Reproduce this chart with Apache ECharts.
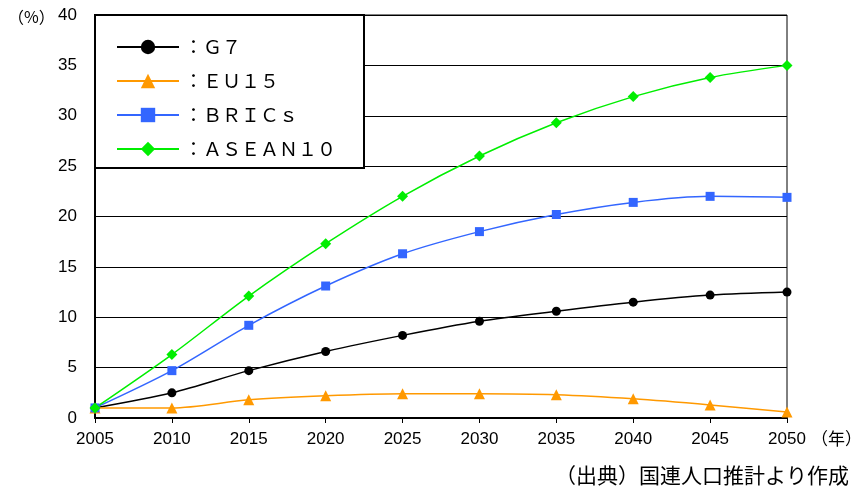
<!DOCTYPE html>
<html>
<head>
<meta charset="utf-8">
<script src="https://cdn.jsdelivr.net/npm/echarts@6/dist/echarts.min.js"></script>
<style>
  html, body { margin: 0; padding: 0; background: #fff; }
  #chart { width: 854px; height: 488px; }
</style>
</head>
<body>
<div id="chart"></div>
<script>
// Projected share (%) by region group, 2005–2050
var years = ['2005', '2010', '2015', '2020', '2025', '2030', '2035', '2040', '2045', '2050'];
var g7     = [1.0, 2.5, 4.7, 6.6, 8.2, 9.6, 10.6, 11.5, 12.2, 12.5];
var eu15   = [1.0, 1.0, 1.8, 2.2, 2.4, 2.4, 2.3, 1.9, 1.3, 0.6];
var brics  = [1.0, 4.7, 9.2, 13.1, 16.3, 18.5, 20.2, 21.4, 22.0, 21.9];
var asean  = [1.0, 6.3, 12.1, 17.3, 22.0, 26.0, 29.3, 31.9, 33.8, 35.0];
var seriesNames = ['G7', 'EU15', 'BRICs', 'ASEAN10'];
var legendLabels = ['：Ｇ７', '：ＥＵ１５', '：ＢＲＩＣｓ', '：ＡＳＥＡＮ１０'];
var yTicks = { min: 0, max: 40, interval: 5 };

var latin = 'Arial, "Liberation Sans", sans-serif';
var cjk = '"Noto Sans CJK JP", sans-serif';

function makeSeries(name, data, color, symbol, size) {
  return {
    name: name,
    type: 'line',
    data: data,
    smooth: 0.3,
    symbol: symbol,
    symbolSize: size,
    showAllSymbol: true,
    lineStyle: { color: color, width: 1.5 },
    itemStyle: { color: color },
    z: 3
  };
}

var chart = echarts.init(document.getElementById('chart'), null, { renderer: 'canvas' });
chart.setOption({
  animation: false,
  backgroundColor: '#fff',
  grid: {
    left: 95, top: 15, right: 67, bottom: 70,
    show: true, borderColor: '#000', borderWidth: 1
  },
  xAxis: {
    type: 'category',
    data: years,
    boundaryGap: false,
    axisLine: { lineStyle: { color: '#000', width: 2 } },
    axisTick: { show: true, length: 5, lineStyle: { color: '#000' } },
    axisLabel: { color: '#000', fontFamily: latin, fontSize: 17, margin: 13 },
    splitLine: { show: false }
  },
  yAxis: {
    type: 'value',
    min: yTicks.min, max: yTicks.max, interval: yTicks.interval,
    axisLine: { show: true, lineStyle: { color: '#000', width: 2 } },
    axisTick: { show: false },
    axisLabel: { color: '#000', fontFamily: latin, fontSize: 17, margin: 18 },
    splitLine: { show: true, lineStyle: { color: '#000', width: 1 } }
  },
  legend: {
    orient: 'vertical',
    left: 111, top: 32,
    itemWidth: 62, itemHeight: 18, itemGap: 14,
    data: seriesNames,
    formatter: function (n) { return legendLabels[seriesNames.indexOf(n)]; },
    textStyle: { color: '#000', fontFamily: cjk, fontSize: 19, lineHeight: 20 },
    lineStyle: { width: 2 },
    selectedMode: false,
    z: 10
  },
  graphic: [
    {
      type: 'rect', z: 5,
      shape: { x: 95, y: 15, width: 269, height: 153 },
      style: { fill: '#fff', stroke: '#000', lineWidth: 2 }
    },
    {
      type: 'text', left: 8, top: 9,
      style: { text: '（%）', fill: '#000', font: '16px ' + cjk }
    },
    {
      type: 'text', left: 811, top: 430,
      style: { text: '（年）', fill: '#000', font: '17px ' + cjk }
    },
    {
      type: 'text', right: 5, top: 465,
      style: { text: '（出典）国連人口推計より作成', fill: '#000', font: '21px ' + cjk }
    }
  ],
  series: [
    makeSeries('G7', g7, '#000000', 'circle', 9),
    makeSeries('EU15', eu15, '#ff9900', 'triangle', 11),
    makeSeries('BRICs', brics, '#3366ff', 'rect', 9),
    makeSeries('ASEAN10', asean, '#00ee00', 'diamond', 11)
  ]
});
</script>
</body>
</html>
